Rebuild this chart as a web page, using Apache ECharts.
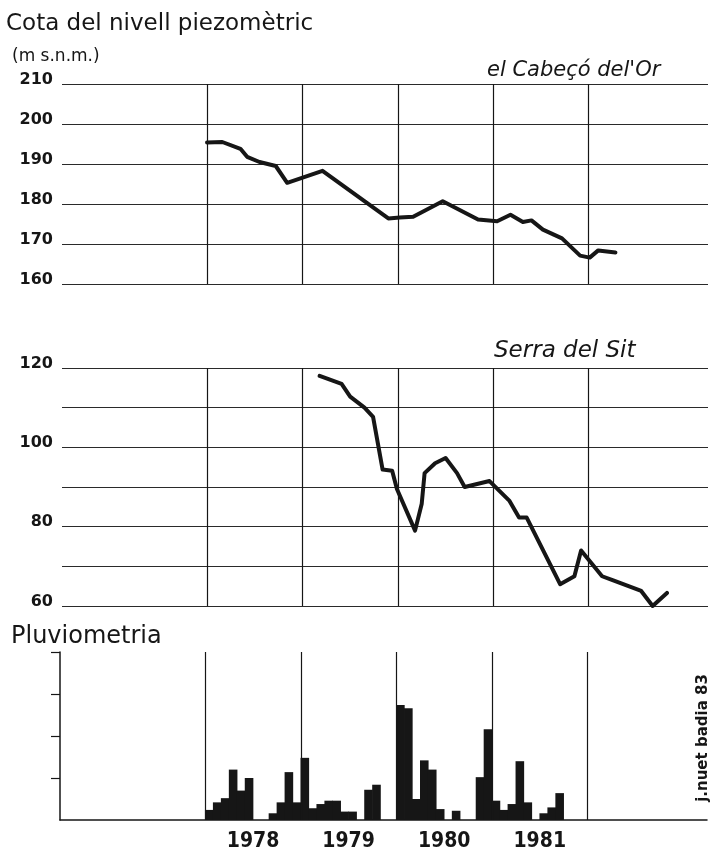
<!DOCTYPE html>
<html>
<head>
<meta charset="utf-8">
<title>Cota del nivell piezomètric</title>
<script src="https://cdn.jsdelivr.net/npm/echarts@6/dist/echarts.min.js"></script>
<style>
  html, body { margin: 0; padding: 0; background: #fff; }
  #chart { width: 712px; height: 853px; }
</style>
</head>
<body>
<div id="chart"></div>
<script>
// el Cabeçó de l'Or - piezometric level (m a.s.l.), x in decimal years
const cabecoYears = [1978.00, 1978.16, 1978.35, 1978.42, 1978.55, 1978.72, 1978.84, 1979.21,
  1979.90, 1980.02, 1980.16, 1980.47, 1980.84, 1981.04, 1981.18, 1981.31, 1981.40,
  1981.52, 1981.72, 1981.91, 1982.01, 1982.10, 1982.28];
const cabecoLevels = [195.4, 195.5, 193.8, 191.8, 190.5, 189.5, 185.3, 188.3,
  176.4, 176.6, 176.8, 180.7, 176.1, 175.7, 177.3, 175.5, 175.9,
  173.6, 171.4, 167.1, 166.6, 168.4, 167.9];

// Serra del Sit
const sitYears = [1979.18, 1979.41, 1979.50, 1979.65, 1979.74, 1979.84, 1979.94, 1979.99,
  1980.18, 1980.25, 1980.28, 1980.39, 1980.50, 1980.62, 1980.70, 1980.96, 1981.17,
  1981.27, 1981.35, 1981.70, 1981.85, 1981.92, 1982.14, 1982.25, 1982.55, 1982.67, 1982.82];
const sitLevels = [118.0, 116.0, 112.8, 110.0, 107.7, 94.4, 94.1, 89.5,
  79.0, 85.8, 93.5, 96.0, 97.3, 93.5, 90.0, 91.5, 86.5,
  82.3, 82.3, 65.5, 67.5, 74.0, 67.5, 66.5, 63.8, 60.0, 63.3];

// pluviometria, monthly totals (mm) from Jan 1978 to Dec 1981
const rainStartYear = 1978;
const rainMonthly = [
  12, 21, 26, 60, 35, 50, 0, 0, 8, 21, 57, 21,      // 1978
  74, 14, 19, 23, 23, 10, 10, 0, 36, 42, 0, 0,      // 1979
  137, 133, 25, 71, 60, 13, 0, 11, 0, 0, 51, 108,   // 1980
  23, 12, 19, 70, 21, 0, 8, 15, 32, 0, 0, 0         // 1981
];

const yearLines = [1978, 1979, 1980, 1981, 1982];
const yearLabels = [1978, 1979, 1980, 1981];
const sitTickLabels = [60, 80, 100, 120];
const rainTicks = [50, 100, 150, 200];

const ink = "#161616";
const font = "DejaVu Sans";
const xMin = 1976.48;
const xMax = 1983.25;

const zip = (xs, ys) => xs.map((x, i) => [x, ys[i]]);
const rainData = rainMonthly.map((v, i) => [rainStartYear + (i + 0.5) / 12, v]);

const yearMarks = {
  silent: true,
  symbol: ["none", "none"],
  label: { show: false },
  lineStyle: { color: ink, width: 1.2, type: "solid" },
  data: yearLines.map((y) => ({ xAxis: y })),
};

const hiddenX = (gridIndex) => ({
  type: "value",
  gridIndex,
  min: xMin,
  max: xMax,
  axisLine: { show: false },
  axisTick: { show: false },
  axisLabel: { show: false },
  splitLine: { show: false },
});

const levelY = (gridIndex, min, max, formatter) => ({
  type: "value",
  gridIndex,
  min,
  max,
  interval: 10,
  axisLine: { show: false },
  axisTick: { show: false },
  splitLine: { show: true, lineStyle: { color: "#2a2a2a", width: 1.2 } },
  axisLabel: {
    color: ink,
    fontFamily: font,
    fontSize: 16,
    fontWeight: "bold",
    margin: 9,
    verticalAlign: "bottom",
    lineHeight: 9,
    formatter,
  },
});

const option = {
  backgroundColor: "#fff",
  animation: false,
  grid: [
    { left: 62, right: 4, top: 84, height: 200 },
    { left: 62, right: 4, top: 368, height: 238 },
    { left: 60, right: 5, top: 652, height: 168 },
  ],
  xAxis: [
    hiddenX(0),
    hiddenX(1),
    {
      type: "value",
      gridIndex: 2,
      min: xMin,
      max: xMax,
      axisLine: { show: true, lineStyle: { color: ink, width: 1.5 } },
      axisTick: { show: false },
      splitLine: { show: false },
      axisLabel: {
        customValues: yearLabels.map((y) => y + 0.5),
        formatter: (v) => String(Math.floor(v)),
        color: ink,
        fontFamily: "DejaVu Sans Condensed",
        fontSize: 21,
        fontWeight: "bold",
        margin: 11,
      },
    },
  ],
  yAxis: [
    levelY(0, 160, 210, (v) => String(v)),
    levelY(1, 60, 120, (v) => (sitTickLabels.includes(v) ? String(v) : "")),
    {
      type: "value",
      gridIndex: 2,
      min: 0,
      max: 200,
      interval: 50,
      axisLine: { show: true, lineStyle: { color: ink, width: 1.5 } },
      axisTick: {
        show: true,
        length: 9,
        customValues: rainTicks,
        lineStyle: { color: ink, width: 1.2 },
      },
      axisLabel: { show: false },
      splitLine: { show: false },
    },
  ],
  series: [
    {
      name: "el Cabeçó del'Or",
      type: "line",
      xAxisIndex: 0,
      yAxisIndex: 0,
      data: zip(cabecoYears, cabecoLevels),
      showSymbol: false,
      lineStyle: { color: ink, width: 4, join: "round", cap: "round" },
      markLine: yearMarks,
    },
    {
      name: "Serra del Sit",
      type: "line",
      xAxisIndex: 1,
      yAxisIndex: 1,
      data: zip(sitYears, sitLevels),
      showSymbol: false,
      lineStyle: { color: ink, width: 4, join: "round", cap: "round" },
      markLine: yearMarks,
    },
    {
      name: "Pluviometria",
      type: "bar",
      xAxisIndex: 2,
      yAxisIndex: 2,
      data: rainData,
      barWidth: 8.6,
      itemStyle: { color: ink },
      markLine: yearMarks,
    },
  ],
  graphic: [
    {
      type: "text",
      left: 6,
      top: 13,
      style: { text: "Cota del nivell piezomètric", fill: ink, font: "23px DejaVu Sans" },
    },
    {
      type: "text",
      left: 12,
      top: 48,
      style: { text: "(m s.n.m.)", fill: ink, font: "17px DejaVu Sans" },
    },
    {
      type: "text",
      left: 487,
      top: 60,
      style: { text: "el Cabeçó del'Or", fill: ink, font: "italic 21px DejaVu Sans" },
    },
    {
      type: "text",
      left: 494,
      top: 340,
      style: { text: "Serra del Sit", fill: ink, font: "italic 23px DejaVu Sans" },
    },
    {
      type: "text",
      left: 11,
      top: 625,
      style: { text: "Pluviometria", fill: ink, font: "24px DejaVu Sans" },
    },
    {
      type: "text",
      x: 703,
      y: 738,
      rotation: Math.PI / 2,
      style: {
        text: "j.nuet badia 83",
        fill: ink,
        font: "bold 15px DejaVu Sans",
        align: "center",
        verticalAlign: "middle",
      },
    },
  ],
};

const chart = echarts.init(document.getElementById("chart"));
chart.setOption(option);
</script>
</body>
</html>
